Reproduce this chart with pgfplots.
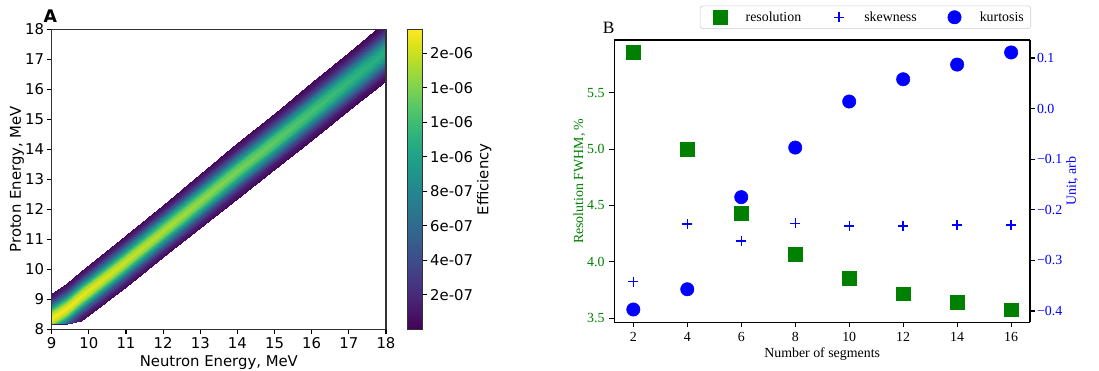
\documentclass[border=0pt]{standalone}
\usepackage{pgfplots}
\pgfplotsset{compat=1.18}
\usepackage{fontspec}
\setmainfont{Liberation Serif}
\newfontfamily\djv{DejaVu Sans}
\definecolor{mgreen}{HTML}{008000}
\definecolor{mblue}{HTML}{0000FF}

\pgfplotstableread{
x y v
9 8.17 1.0
9 8.2 15.0
9 8.205 15.1
9 8.21 15.2
9 8.216 15.66
9 8.38 17.4
9 8.544 15.66
9 8.708 10.79
9 8.872 5.22
9 9.036 1.74
9 9.2 0.35

9.4 8.17 0.6
9.4 8.2 4.6
9.4 8.223 5.16
9.4 8.389 10.66
9.4 8.554 15.48
9.4 8.72 17.2
9.4 8.886 15.48
9.4 9.051 10.66
9.4 9.217 5.16
9.4 9.382 1.72
9.4 9.548 0.34

9.8 8.264 0.34
9.8 8.431 1.70
9.8 8.598 5.10
9.8 8.766 10.54
9.8 8.933 15.30
9.8 9.1 17.0
9.8 9.267 15.30
9.8 9.434 10.54
9.8 9.602 5.10
9.8 9.769 1.70
9.8 9.936 0.34

11 9.42 0.32
11 9.592 1.62
11 9.764 4.86
11 9.936 10.04
11 10.108 14.58
11 10.28 16.2
11 10.452 14.58
11 10.624 10.04
11 10.796 4.86
11 10.968 1.62
11 11.14 0.32

12 10.40 0.31
12 10.576 1.55
12 10.752 4.65
12 10.928 9.61
12 11.104 13.95
12 11.28 15.5
12 11.456 13.95
12 11.632 9.61
12 11.808 4.65
12 11.984 1.55
12 12.16 0.31

13 11.38 0.30
13 11.56 1.48
13 11.74 4.44
13 11.92 9.18
13 12.10 13.32
13 12.28 14.8
13 12.46 13.32
13 12.64 9.18
13 12.82 4.44
13 13.00 1.48
13 13.18 0.30

14 12.36 0.28
14 12.544 1.40
14 12.728 4.20
14 12.912 8.68
14 13.096 12.60
14 13.28 14.0
14 13.464 12.60
14 13.648 8.68
14 13.832 4.20
14 14.016 1.40
14 14.2 0.28

15 13.34 0.26
15 13.528 1.32
15 13.716 3.96
15 13.904 8.18
15 14.092 11.88
15 14.28 13.2
15 14.468 11.88
15 14.656 8.18
15 14.844 3.96
15 15.032 1.32
15 15.22 0.26

16 14.32 0.25
16 14.512 1.24
16 14.704 3.72
16 14.896 7.69
16 15.088 11.16
16 15.28 12.4
16 15.472 11.16
16 15.664 7.69
16 15.856 3.72
16 16.048 1.24
16 16.24 0.25

17 15.30 0.23
17 15.496 1.16
17 15.692 3.48
17 15.888 7.19
17 16.084 10.44
17 16.28 11.6
17 16.476 10.44
17 16.672 7.19
17 16.868 3.48
17 17.064 1.16
17 17.26 0.23

18 16.28 0.22
18 16.48 1.08
18 16.68 3.24
18 16.88 6.70
18 17.08 9.72
18 17.28 10.8
18 17.48 9.72
18 17.68 6.70
18 17.88 3.24
18 18.08 1.08
18 18.28 0.22
}\bandtable

\pgfplotstableread{
n res skew kurt
2 5.855 -0.342 -0.397
4 4.998 -0.228 -0.357
6 4.431 -0.262 -0.175
8 4.070 -0.227 -0.077
10 3.857 -0.232 0.014
12 3.718 -0.232 0.058
14 3.644 -0.230 0.087
16 3.576 -0.230 0.111
}\segtable

\begin{document}
\begin{tikzpicture}
\useasboundingbox (0,0) rectangle (791.28pt,267.12pt);

% ---------------- Panel A ----------------
\begin{axis}[
  at={(37.22pt,30.02pt)}, anchor=south west,
  scale only axis, width=240.7pt, height=216pt,
  view={0}{90},
  xmin=9, xmax=18, ymin=8, ymax=18,
  enlargelimits=false,
  axis on top,
  xtick={9,10,...,18}, ytick={8,9,...,18},
  xtick pos=left, ytick pos=left,
  tick align=outside,
  major tick length=3.5pt,
  major tick style={black, line width=0.8pt},
  axis line style={black!80, line width=0.8pt},
  /pgf/number format/assume math mode=true,
  ticklabel style={font=\djv\fontsize{10.7}{12}\selectfont},
  label style={font=\djv\fontsize{10.7}{12}\selectfont},
  xticklabel style={yshift=1pt},
  yticklabel style={xshift=1.5pt},
  xlabel={Neutron Energy, MeV},
  ylabel={Proton Energy, MeV},
  xlabel style={yshift=2pt},
  ylabel style={yshift=-6pt},
  colormap/viridis,
  point meta min=0, point meta max=17.4,
  colorbar,
  colorbar style={
    at={(parent axis.north east)}, anchor=north west, xshift=7pt,
    scale only axis, width=10.8pt, height=216pt,
    ytick={2,4,6,8,10,12,14,16},
    yticklabels={2e-07,4e-07,6e-07,8e-07,1e-06,1e-06,1e-06,2e-06},
    ytick pos=right, yticklabel pos=right,
    tick align=outside, major tick length=3.5pt,
    major tick style={black, line width=0.8pt},
    axis line style={black!80, line width=0.8pt},
    yticklabel style={font=\djv\fontsize{10.7}{12}\selectfont, xshift=-1.5pt},
    ylabel={Efficiency},
    ylabel style={font=\djv\fontsize{10.7}{12}\selectfont, yshift=4pt},
  },
]
\addplot3[surf, shader=interp, point meta=\thisrow{v}] table[x=x, y=y, z=v] {\bandtable};
\end{axis}
\node[anchor=base west, font=\djv\bfseries\fontsize{12.5}{14}\selectfont, inner sep=0pt] at (31.2pt,250.8pt) {A};

% ---------------- Panel B (left axis) ----------------
\begin{axis}[
  at={(442.3pt,35.06pt)}, anchor=south west,
  scale only axis, width=299.3pt, height=203.26pt,
  xmin=1.296, xmax=16.70, ymin=3.465, ymax=5.967,
  axis y line*=left,
  xtick={2,4,...,16},
  ytick={3.5,4,4.5,5,5.5}, yticklabels={3.5,4.0,4.5,5.0,5.5},
  xtick pos=left,
  tick align=outside, major tick length=3.5pt,
  major tick style={black, line width=0.8pt},
  axis line style={black, line width=0.8pt},
  /pgf/number format/assume math mode=true,
  ticklabel style={font=\fontsize{10}{12}\selectfont},
  yticklabel style={text=mgreen},
  label style={font=\fontsize{10}{12}\selectfont},
  xlabel={Number of segments},
  xlabel style={yshift=2pt},
  ylabel={Resolution FWHM, \%},
  ylabel style={text=mgreen, yshift=-5.5pt},
]
\addplot[only marks, mark=square*, mark size=5pt, mgreen] table[x=n, y=res] {\segtable};
\end{axis}

% ---------------- Panel B (right axis) ----------------
\begin{axis}[
  at={(442.3pt,35.06pt)}, anchor=south west,
  scale only axis, width=299.3pt, height=203.26pt,
  xmin=1.296, xmax=16.70, ymin=-0.4223, ymax=0.1356,
  axis y line*=right, axis x line=none,
  ytick={-0.4,-0.3,-0.2,-0.1,0,0.1},
  yticklabels={−0.4,−0.3,−0.2,−0.1,0.0,0.1},
  tick align=outside, major tick length=3.5pt,
  major tick style={black, line width=0.8pt},
  axis line style={black, line width=0.8pt},
  ticklabel style={font=\fontsize{10}{12}\selectfont},
  yticklabel style={text=mblue, xshift=-2pt},
  label style={font=\fontsize{10}{12}\selectfont},
  ylabel={Unit, arb},
  ylabel style={text=mblue, yshift=4pt},
  legend columns=3,
  legend cell align=left,
  legend style={at={(1.0024,1.039)}, anchor=south east,
    draw=black!20, rounded corners=2pt, fill=white,
    font=\fontsize{10}{12}\selectfont,
    inner xsep=3pt, inner ysep=2pt,
    nodes={inner sep=2pt}},
]
\addlegendimage{legend image code/.code={%
  \path[mark=square*, mark size=5pt, mark options={mgreen, fill=mgreen}] plot coordinates {(0pt,0pt)};
  \path (-11.4pt,0pt) (16pt,0pt);}}
\addlegendimage{legend image code/.code={%
  \path[mark=+, mark size=3.6pt, mark options={mblue, line width=1pt}] plot coordinates {(0pt,0pt)};
  \path (-25pt,0pt) (16pt,0pt);}}
\addlegendimage{legend image code/.code={%
  \path[mark=*, mark size=4.8pt, mark options={mblue, fill=mblue}] plot coordinates {(0pt,0pt)};
  \path (-25pt,0pt) (16pt,0pt);}}
\addplot[forget plot, only marks, mark=+, mark size=3.6pt, color=mblue, mark options={solid, mblue, line width=1pt}] table[x=n, y=skew] {\segtable};
\addplot[forget plot, only marks, mark=*, mark size=4.8pt, color=mblue, mark options={mblue}] table[x=n, y=kurt] {\segtable};
\legend{resolution, skewness, kurtosis}
\end{axis}
\node[anchor=base west, font=\fontsize{12.5}{14}\selectfont, inner sep=0pt] at (433.9pt,243.1pt) {B};
\end{tikzpicture}
\end{document}
